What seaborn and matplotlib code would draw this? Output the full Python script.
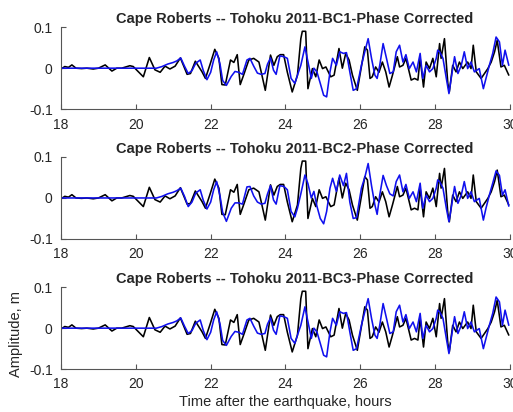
import numpy as np
import pandas as pd
import matplotlib
matplotlib.use('Agg')
import matplotlib.pyplot as plt
import seaborn as sns

# observed record (black), same in all three panels
t_obs = [18.0, 18.1, 18.2, 18.29, 18.4, 18.55, 18.69, 18.86, 19.0, 19.18, 19.36, 19.49,
         19.62, 19.84, 19.93, 20.07, 20.2, 20.36, 20.51, 20.65, 20.78, 20.91, 21.05, 21.19,
         21.37, 21.46, 21.59, 21.77, 21.86, 21.99, 22.11, 22.22, 22.3, 22.39, 22.53, 22.62,
         22.71, 22.79, 22.88, 23.02, 23.15, 23.29, 23.37, 23.46, 23.6, 23.69, 23.78, 23.86,
         23.95, 24.05, 24.18, 24.32, 24.41, 24.45, 24.54, 24.6, 24.72, 24.81, 24.9, 24.99,
         25.08, 25.21, 25.3, 25.43, 25.52, 25.61, 25.7, 25.79, 25.92, 26.06, 26.12, 26.19,
         26.26, 26.32, 26.41, 26.5, 26.59, 26.68, 26.77, 26.86, 26.99, 27.05, 27.14, 27.22,
         27.36, 27.45, 27.54, 27.6, 27.69, 27.76, 27.85, 27.94, 28.03, 28.12, 28.16, 28.25,
         28.34, 28.38, 28.47, 28.56, 28.65, 28.74, 28.87, 28.96, 29.02, 29.1, 29.23, 29.32,
         29.41, 29.5, 29.59, 29.66, 29.76, 29.85, 29.97]
obs = [-0.002, 0.004, 0.002, 0.008, 0.0, -0.001, 0.0, -0.002, 0.0, 0.008, -0.007, 0.0,
       0.0, 0.006, 0.004, -0.009, -0.021, 0.026, -0.004, -0.01, 0.005, -0.002, 0.005, 0.025,
       -0.015, -0.013, 0.017, -0.009, -0.025, 0.011, 0.046, 0.024, -0.04, -0.041, 0.02, 0.014,
       0.033, -0.04, -0.017, 0.02, 0.024, 0.015, -0.017, -0.054, 0.032, 0.007, 0.028, 0.033,
       0.033, -0.01, -0.058, -0.017, 0.072, 0.09, 0.09, -0.05, -0.001, -0.021, 0.02, -0.001,
       0.003, -0.021, -0.017, 0.048, 0.0, 0.036, 0.02, -0.017, -0.054, 0.02, 0.052, 0.044,
       -0.025, -0.021, 0.003, -0.01, 0.015, -0.009, -0.046, -0.017, 0.028, 0.003, 0.007, 0.024,
       -0.029, -0.025, -0.029, 0.024, -0.046, 0.015, -0.001, 0.024, -0.021, 0.06, 0.024, 0.072,
       -0.037, -0.058, 0.007, -0.009, 0.015, -0.001, 0.015, -0.001, 0.056, -0.009, -0.025, -0.013,
       -0.001, 0.015, 0.04, 0.068, 0.003, 0.007, -0.017]

# modelled records (blue), one per boundary condition
t_mod = [18.0, 20.55, 20.7, 20.85, 21.0, 21.1, 21.2, 21.3, 21.4, 21.5, 21.6, 21.72,
         21.8, 21.9, 22.0, 22.08, 22.16, 22.25, 22.32, 22.42, 22.55, 22.65, 22.75, 22.85,
         22.97, 23.05, 23.15, 23.25, 23.35, 23.45, 23.52, 23.6, 23.68, 23.75, 23.85, 23.96,
         24.05, 24.15, 24.25, 24.32, 24.41, 24.52, 24.6, 24.69, 24.76, 24.84, 24.93, 25.02,
         25.1, 25.19, 25.26, 25.36, 25.45, 25.55, 25.63, 25.72, 25.81, 25.9, 26.03, 26.12,
         26.21, 26.3, 26.39, 26.45, 26.52, 26.61, 26.7, 26.79, 26.88, 26.96, 27.05, 27.14,
         27.22, 27.31, 27.41, 27.5, 27.6, 27.67, 27.76, 27.85, 27.94, 28.03, 28.07, 28.12,
         28.21, 28.3, 28.37, 28.43, 28.52, 28.61, 28.7, 28.78, 28.87, 28.96, 29.05, 29.18,
         29.29, 29.36, 29.45, 29.54, 29.63, 29.72, 29.8, 29.87, 29.97]
bc1 = [0.0, 0.0, 0.004, 0.01, 0.014, 0.018, 0.025, 0.005, -0.013, -0.006, 0.012, 0.02,
       -0.005, -0.028, -0.01, 0.02, 0.04, 0.01, -0.03, -0.042, -0.02, -0.008, -0.01, -0.015,
       0.02, 0.024, 0.005, -0.012, -0.015, -0.013, 0.01, 0.025, -0.005, -0.015, 0.03, 0.028,
       0.024, -0.025, -0.037, -0.017, 0.007, 0.052, 0.016, -0.025, 0.0, -0.009, -0.037, -0.066,
       -0.07, -0.009, 0.024, 0.007, 0.04, 0.036, 0.038, -0.009, -0.054, -0.05, 0.007, 0.04,
       0.072, 0.024, -0.017, -0.025, 0.007, 0.06, 0.024, -0.013, -0.009, 0.04, 0.056, 0.015,
       0.033, -0.001, 0.015, -0.009, 0.036, -0.025, 0.007, -0.009, -0.001, 0.024, 0.044, 0.04,
       0.024, -0.025, -0.062, -0.025, 0.028, -0.013, 0.007, 0.04, -0.001, 0.015, -0.009, -0.001,
       -0.05, -0.025, 0.007, 0.036, 0.076, 0.064, 0.007, 0.044, 0.007]
bc2 = [0.0, 0.0, 0.004, 0.01, 0.014, 0.018, 0.024, 0.004, -0.021, -0.01, 0.012, 0.02,
       -0.005, -0.027, -0.01, 0.02, 0.04, 0.005, -0.035, -0.057, -0.025, -0.012, -0.012, -0.015,
       0.027, 0.028, 0.005, -0.01, -0.015, -0.013, 0.01, 0.03, -0.005, -0.015, 0.03, 0.028,
       0.02, -0.033, -0.046, -0.025, 0.01, 0.056, 0.035, 0.0, 0.016, -0.02, -0.05, -0.063,
       -0.033, 0.024, 0.048, 0.016, 0.056, 0.03, 0.06, -0.01, -0.05, -0.048, 0.024, 0.05,
       0.084, 0.03, -0.017, -0.04, 0.007, 0.055, 0.03, 0.01, 0.005, 0.04, 0.056, 0.015,
       0.033, -0.001, 0.015, -0.009, 0.036, -0.025, 0.007, -0.009, -0.001, 0.024, 0.044, 0.04,
       0.024, -0.025, -0.058, -0.025, 0.028, -0.013, 0.007, 0.04, -0.001, 0.015, -0.009, -0.001,
       -0.054, -0.025, 0.007, 0.036, 0.066, 0.055, 0.007, 0.02, -0.02]
bc3 = [0.0, 0.0, 0.004, 0.01, 0.014, 0.018, 0.025, 0.005, -0.013, -0.006, 0.012, 0.02,
       -0.005, -0.028, -0.01, 0.02, 0.04, 0.01, -0.03, -0.042, -0.02, -0.008, -0.01, -0.015,
       0.02, 0.024, 0.005, -0.012, -0.015, -0.013, 0.01, 0.025, -0.005, -0.015, 0.03, 0.028,
       0.024, -0.025, -0.037, -0.017, 0.007, 0.052, 0.016, -0.025, 0.0, -0.009, -0.037, -0.066,
       -0.07, -0.009, 0.024, 0.007, 0.04, 0.036, 0.038, -0.009, -0.054, -0.05, 0.007, 0.04,
       0.072, 0.024, -0.017, -0.025, 0.007, 0.06, 0.024, -0.013, -0.009, 0.04, 0.056, 0.015,
       0.033, -0.001, 0.015, -0.009, 0.036, -0.025, 0.007, -0.009, -0.001, 0.024, 0.044, 0.04,
       0.024, -0.025, -0.062, -0.025, 0.028, -0.013, 0.007, 0.04, -0.001, 0.015, -0.009, -0.001,
       -0.05, -0.025, 0.007, 0.036, 0.076, 0.064, 0.007, 0.044, 0.007]

titles = ['Cape Roberts -- Tohoku 2011-BC1-Phase Corrected',
          'Cape Roberts -- Tohoku 2011-BC2-Phase Corrected',
          'Cape Roberts -- Tohoku 2011-BC3-Phase Corrected']
x_ticks = [18, 20, 22, 24, 26, 28, 30]
y_ticks = [-0.1, 0, 0.1]
y_ticklabels = ['-0.1', '0', '0.1']

sns.set_style('white')
plt.rcParams['font.family'] = ['Liberation Sans', 'DejaVu Sans']

fig = plt.figure(figsize=(5.13, 4.12), dpi=100)
bottoms = [0.735, 0.42, 0.104]
df_obs = pd.DataFrame({'t': t_obs, 'amp': obs})

for k, model in enumerate([bc1, bc2, bc3]):
    ax = fig.add_axes([0.119, bottoms[k], 0.875, 0.199])
    df_mod = pd.DataFrame({'t': t_mod, 'amp': model})
    sns.lineplot(data=df_obs, x='t', y='amp', ax=ax, color='black', lw=1.15,
                 sort=False, estimator=None)
    sns.lineplot(data=df_mod, x='t', y='amp', ax=ax, color='#1010ee', lw=1.15,
                 sort=False, estimator=None)
    ax.set_xlim(18, 30)
    ax.set_ylim(-0.1, 0.1)
    ax.set_xticks(x_ticks)
    ax.set_yticks(y_ticks)
    ax.set_yticklabels(y_ticklabels)
    ax.set_xlabel('')
    ax.set_ylabel('')
    ax.set_title(titles[k], fontsize=10.5, fontweight='bold', pad=3, x=0.52)
    for s in ['top', 'right']:
        ax.spines[s].set_visible(False)
    for s in ['left', 'bottom']:
        ax.spines[s].set_color('#555555')
        ax.spines[s].set_linewidth(0.8)
    ax.tick_params(direction='in', length=3.5, width=0.8, colors='#555555',
                   labelsize=10, labelcolor='#262626', left=True, bottom=True)
    ax.tick_params(axis='x', pad=6)
    ax.tick_params(axis='y', pad=6)

fig.text(0.032, 0.19, 'Amplitude, m', rotation=90, ha='center', va='center',
         fontsize=10.5, color='#262626')
fig.text(0.556, 0.025, 'Time after the earthquake, hours', ha='center', va='center',
         fontsize=10.5, color='#262626')

fig.savefig('out.png', dpi=100)
